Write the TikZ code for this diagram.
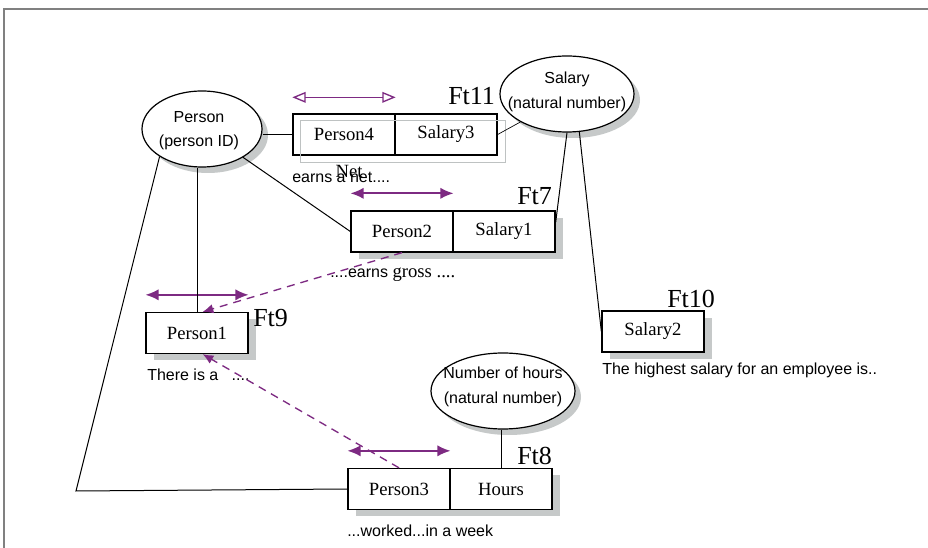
\documentclass[tikz,border=0pt]{standalone}
\usepackage{fontspec}
\setmainfont{Liberation Serif}
\setsansfont{Liberation Sans}
\usetikzlibrary{arrows.meta,shapes.geometric,shadows,calc}
\definecolor{factpurple}{RGB}{125,42,130}
\definecolor{shadowgray}{RGB}{198,201,201}
\definecolor{framegray}{RGB}{128,128,128}
\definecolor{ghostgray}{RGB}{190,194,194}
\begin{document}
\begin{tikzpicture}[x=0.75pt,y=-0.75pt,
  objtype/.style={ellipse, draw, line width=0.9pt, fill=white, inner sep=0pt,
    general shadow={fill=shadowgray, shadow xshift=4.5pt, shadow yshift=-4.5pt}},
  cell/.style={rectangle, draw, line width=1pt, fill=white, inner sep=0pt,
    minimum width=76.5pt, minimum height=30.75pt,
    font=\fontsize{14}{16}\selectfont},
  shadowcell/.style={cell,
    general shadow={fill=shadowgray, shadow xshift=6pt, shadow yshift=-5.25pt}},
  typetext/.style={font=\sffamily\fontsize{12}{14}\selectfont, inner sep=0pt},
  ftlabel/.style={font=\fontsize{19.5}{22}\selectfont, anchor=base west, inner sep=0pt},
  caption/.style={font=\sffamily\fontsize{12}{14}\selectfont, anchor=west, inner sep=0pt},
  link/.style={line width=0.75pt},
  roleuniq/.style={factpurple, line width=1.5pt, {Latex[length=10pt,width=8.5pt]}-{Latex[length=10pt,width=8.5pt]}},
  roleopen/.style={factpurple, line width=1pt, {Triangle[open,length=10pt,width=8pt]}-{Triangle[open,length=10pt,width=8pt]}},
  subset/.style={factpurple, line width=1pt, dash pattern=on 6pt off 4.5pt, -{Latex[length=8pt,width=7pt]}}
]
\useasboundingbox (0,0) rectangle (928,548);
\fill[white] (0,0) rectangle (928,548);

% page frame
\draw[framegray, line width=1.1pt] (4,548) -- (4,9) -- (928,9);

% object types
\node[objtype, minimum width=90pt, minimum height=57pt] (pe) at (202,129) {};
\node[typetext] (pe1) at (199,117) {Person};
\node[typetext] (pe2) at (199,142) {(person ID)};

\node[objtype, minimum width=100.5pt, minimum height=57pt] (sal) at (567,94) {};
\node[typetext] (sal1) at (567,79) {Salary};
\node[typetext] (sal2) at (567,104) {(natural number)};

\node[objtype, minimum width=108pt, minimum height=57pt] (nh) at (503,391) {};
\node[typetext] (nh1) at (503,373) {Number of hours};
\node[typetext] (nh2) at (503,399) {(natural number)};

% fact type Ft11
\node[cell] (p4) at (344,134.5) {Person4};
\node[cell] (s3) at (446,134.5) {Salary3};
\draw[ghostgray, line width=1.2pt] ($(p4.north west)+(8,7)$) rectangle ($(s3.south east)+(8,7)$);
\node[ftlabel] (ft11) at (448,105) {Ft11};
\draw[roleopen] ([yshift=12pt]p4.north west) -- ([yshift=12pt]p4.north east);
\node[caption] (c11) at (292,177) {earns a net....};
\node[font=\fontsize{14}{16}\selectfont, inner sep=0pt] (net) at (349,171) {Net};

% fact type Ft7
\node[shadowcell] (p2) at (402,231.5) {Person2};
\node[shadowcell] (s1) at (504,231.5) {Salary1};
\node[ftlabel] (ft7) at (517,205) {Ft7};
\draw[roleuniq] ([yshift=12.75pt]p2.north west) -- ([yshift=12.75pt]p2.north east);
\node[caption] (c7) at (330,275) {....earns {\rmfamily\fontsize{14}{16}\selectfont gross ....}};

% fact type Ft9
\node[shadowcell] (p1) at (197,333) {Person1};
\node[ftlabel] (ft9) at (253,327) {Ft9};
\draw[roleuniq] ([yshift=12.75pt]p1.north west) -- ([yshift=12.75pt]p1.north east);
\node[caption] (c9) at (147,375) {There is a \ \ ....};

% fact type Ft10
\node[shadowcell] (s2) at (653,331.5) {Salary2};
\node[ftlabel] (ft10) at (667,308) {Ft10};
\node[caption] (c10) at (602,370) {The highest salary for an employee is..};

% fact type Ft8
\node[shadowcell] (p3) at (399,489) {Person3};
\node[shadowcell] (h) at (501,489) {Hours};
\node[ftlabel] (ft8) at (517,465) {Ft8};
\draw[roleuniq] ([yshift=12.75pt]p3.north west) -- ([yshift=12.75pt]p3.north east);
\node[caption] (c8) at (347,531) {...worked...in a week};

% role connectors
\coordinate (bend) at (76,491);
\draw[link] (p4.west -| pe.east) -- (p4.west);
\draw[link] (pe) -- (p2.west);
\draw[link] (p1.north) -- (p1.north |- pe.south);
\draw[link] (pe.213) -- (bend) -- (p3.west);
\draw[line width=0.5pt] (s3.east) -- (sal.211);
\draw[link] (sal.south) -- (s1.10);
\draw[link] (sal.-72) -- (s2.west);
\draw[link] (h.north) -- (h.north |- nh.south);

% subset constraints
\draw[subset] (p2.south) -- (p1.75);
\draw[subset] (p3.north) -- (p1.-75);
\end{tikzpicture}
\end{document}
